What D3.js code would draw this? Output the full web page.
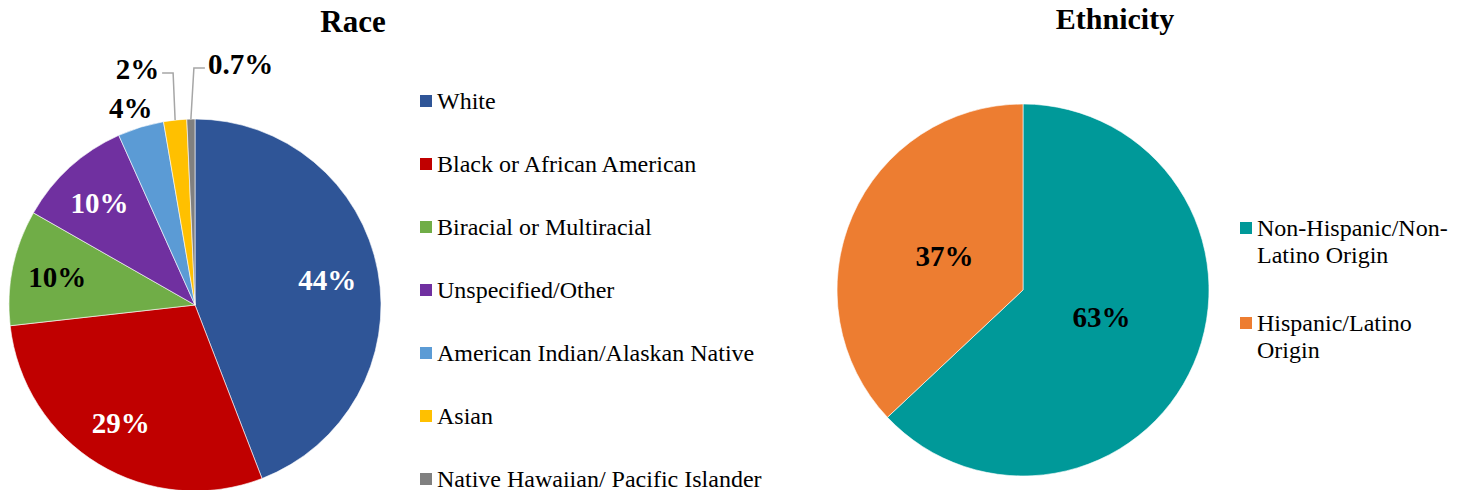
<!DOCTYPE html>
<html>
<head>
<meta charset="utf-8">
<script src="https://cdn.jsdelivr.net/npm/d3@7"></script>
<style>
  body { margin: 0; background: #fff; }
  svg { display: block; }
  text { font-family: "Liberation Serif", "Times New Roman", serif; }
</style>
</head>
<body>
<svg id="chart" width="1462" height="490"></svg>
<script>
// Race data
const raceCategories = ["White", "Black or African American", "Biracial or Multiracial",
    "Unspecified/Other", "American Indian/Alaskan Native", "Asian", "Native Hawaiian/ Pacific Islander"];
const raceValues = [44, 29, 10, 10, 4, 2, 0.7];
const raceLabels = ["44%", "29%", "10%", "10%", "4%", "2%", "0.7%"];
const raceColors = ["#2F5597", "#C00000", "#70AD47", "#7030A0", "#5B9BD5", "#FFC000", "#808080"];

// Ethnicity data
const ethCategories = [["Non-Hispanic/Non-", "Latino Origin"], ["Hispanic/Latino", "Origin"]];
const ethValues = [63, 37];
const ethLabels = ["63%", "37%"];
const ethColors = ["#009999", "#ED7D31"];

const svg = d3.select("#chart");
const radius = 186;
const pie = d3.pie().sort(null).value(d => d);

// ---------- Race pie ----------
const race = svg.append("g").attr("transform", "translate(195,305)");
const raceArc = d3.arc().innerRadius(0).outerRadius(radius);
const raceReady = pie(raceValues);

race.selectAll("path")
    .data(raceReady)
    .enter()
    .append("path")
    .attr("d", raceArc)
    .attr("fill", (d, i) => raceColors[i])
    .attr("stroke", "#fff")
    .attr("stroke-width", 0.6);

// label placement: inside labels on a ring, small slices outside
const insideArc = d3.arc().innerRadius(radius * 0.74).outerRadius(radius * 0.74);
const outsideArc = d3.arc().innerRadius(radius * 1.11).outerRadius(radius * 1.11);
const rimArc = d3.arc().innerRadius(radius).outerRadius(radius);
const labelFill = ["#fff", "#fff", "#000", "#fff", "#000", "#000", "#000"];

raceReady.forEach((d, i) => {
    const t = race.append("text")
        .attr("text-anchor", "middle")
        .attr("dy", "0.35em")
        .style("font-size", "29px")
        .style("font-weight", "bold")
        .attr("fill", labelFill[i])
        .text(raceLabels[i]);
    if (i < 4) {
        const [x, y] = insideArc.centroid(d);
        t.attr("x", x - 3).attr("y", y);
    } else if (i === 4) {
        const [x, y] = outsideArc.centroid(d);
        t.attr("x", x - 4).attr("y", y);
    } else {
        // leader line labels
        const [x0, y0] = rimArc.centroid(d);
        const side = i === 5 ? -1 : 1;
        const elbowY = i === 5 ? -232 : -237;
        const elbowX = i === 5 ? x0 - 2 : x0 + 3;
        const endX = elbowX + side * 11;
        race.append("polyline")
            .attr("points", `${x0},${y0} ${elbowX},${elbowY} ${endX},${elbowY}`)
            .attr("fill", "none")
            .attr("stroke", "#A6A6A6")
            .attr("stroke-width", 1.5);
        t.attr("text-anchor", side < 0 ? "end" : "start")
            .attr("x", endX + side * 3)
            .attr("y", elbowY - 4);
    }
});

svg.append("text")
    .attr("x", 353).attr("y", 32)
    .attr("text-anchor", "middle")
    .style("font-size", "31px")
    .style("font-weight", "bold")
    .text("Race");

// Race legend
const raceLegend = svg.append("g").attr("transform", "translate(420,101)");
const raceRows = raceLegend.selectAll("g")
    .data(raceCategories)
    .enter()
    .append("g")
    .attr("transform", (d, i) => `translate(0,${i * 63})`);
raceRows.append("rect")
    .attr("x", 0).attr("y", -6)
    .attr("width", 12).attr("height", 12)
    .attr("fill", (d, i) => raceColors[i]);
raceRows.append("text")
    .attr("x", 17).attr("dy", "0.33em")
    .style("font-size", "24px")
    .text(d => d);

// ---------- Ethnicity pie ----------
const eth = svg.append("g").attr("transform", "translate(1023,290)");
const ethArc = d3.arc().innerRadius(0).outerRadius(radius);
const ethLabelArc = d3.arc().innerRadius(radius * 0.46).outerRadius(radius * 0.46);
const ethReady = pie(ethValues);

eth.selectAll("path")
    .data(ethReady)
    .enter()
    .append("path")
    .attr("d", ethArc)
    .attr("fill", (d, i) => ethColors[i])
    .attr("stroke", "#fff")
    .attr("stroke-width", 0.6);

eth.selectAll("text")
    .data(ethReady)
    .enter()
    .append("text")
    .attr("transform", d => `translate(${ethLabelArc.centroid(d)})`)
    .attr("text-anchor", "middle")
    .attr("dy", (d, i) => i === 0 ? "0.1em" : "0.35em")
    .style("font-size", "29px")
    .style("font-weight", "bold")
    .text((d, i) => ethLabels[i]);

svg.append("text")
    .attr("x", 1115).attr("y", 29)
    .attr("text-anchor", "middle")
    .style("font-size", "30px")
    .style("font-weight", "bold")
    .text("Ethnicity");

// Ethnicity legend
const ethLegend = svg.append("g").attr("transform", "translate(1240,228)");
const ethRows = ethLegend.selectAll("g")
    .data(ethCategories)
    .enter()
    .append("g")
    .attr("transform", (d, i) => `translate(0,${i * 95})`);
ethRows.append("rect")
    .attr("x", 0).attr("y", -6)
    .attr("width", 12).attr("height", 12)
    .attr("fill", (d, i) => ethColors[i]);
ethRows.each(function(lines) {
    const t = d3.select(this).append("text")
        .attr("x", 17)
        .style("font-size", "24px");
    lines.forEach((line, j) => {
        t.append("tspan")
            .attr("x", 17)
            .attr("dy", j === 0 ? "0.33em" : "27px")
            .text(line);
    });
});
</script>
</body>
</html>
